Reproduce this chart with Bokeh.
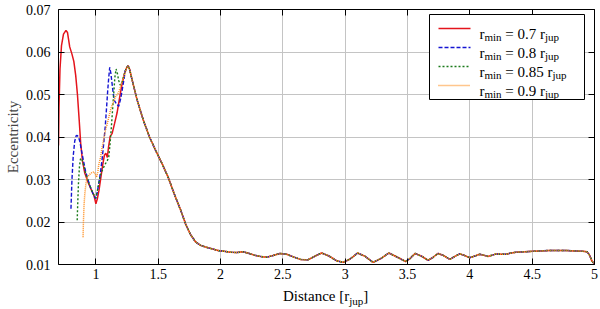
from bokeh.plotting import figure
from bokeh.layouts import column
from bokeh.models import (FixedTicker, LinearAxis, Label, Arrow, BoxAnnotation, Range1d, Div)
from bokeh.embed import file_html
from bokeh.resources import INLINE

# ---------------- data ----------------
red_x = [0.700, 0.704, 0.712, 0.724, 0.740, 0.760, 0.772, 0.790, 0.808, 0.823, 0.838,
         0.852, 0.866, 0.878, 0.892, 0.910, 0.935, 0.960, 0.985, 1.000, 1.012, 1.025,
         1.040, 1.055, 1.068, 1.080, 1.092, 1.102, 1.115, 1.130, 1.150, 1.170, 1.190,
         1.210, 1.230]
red_y = [0.0380, 0.0470, 0.0560, 0.0615, 0.0642, 0.0651, 0.0646, 0.0612, 0.0595, 0.0578,
         0.0545, 0.0500, 0.0440, 0.0385, 0.0345, 0.0316, 0.0295, 0.0278, 0.0262, 0.0243,
         0.0255, 0.0275, 0.0305, 0.0335, 0.0357, 0.0362, 0.0352, 0.0378, 0.0402, 0.0408,
         0.0432, 0.0457, 0.0492, 0.0525, 0.0550]

blue_x = [0.800, 0.808, 0.818, 0.830, 0.842, 0.850, 0.860, 0.871, 0.882, 0.895, 0.916,
          0.936, 0.956, 0.975, 0.991, 1.000, 1.012, 1.025, 1.036, 1.050, 1.063, 1.075,
          1.084, 1.095, 1.103, 1.111, 1.120, 1.130, 1.140, 1.148, 1.165, 1.183, 1.197,
          1.210, 1.225, 1.236]
blue_y = [0.0231, 0.0300, 0.0355, 0.0390, 0.0403, 0.0404, 0.0400, 0.0390, 0.0372, 0.0352,
          0.0321, 0.0300, 0.0282, 0.0268, 0.0258, 0.0255, 0.0272, 0.0295, 0.0315, 0.0348,
          0.0385, 0.0425, 0.0462, 0.0510, 0.0540, 0.0564, 0.0550, 0.0525, 0.0500, 0.0486,
          0.0478, 0.0472, 0.0488, 0.0509, 0.0535, 0.0556]

green_x = [0.850, 0.855, 0.860, 0.868, 0.876, 0.885, 0.900, 0.920, 0.945, 0.970, 0.990,
           1.000, 1.015, 1.036, 1.056, 1.076, 1.092, 1.103, 1.114, 1.124, 1.134, 1.143,
           1.152, 1.162, 1.172, 1.183, 1.195, 1.210, 1.225, 1.236]
green_y = [0.0204, 0.0250, 0.0290, 0.0330, 0.0348, 0.0350, 0.0335, 0.0312, 0.0290, 0.0272,
           0.0260, 0.0257, 0.0278, 0.0310, 0.0325, 0.0337, 0.0345, 0.0352, 0.0385, 0.0423,
           0.0465, 0.0502, 0.0540, 0.0560, 0.0550, 0.0533, 0.0522, 0.0530, 0.0545, 0.0556]

orange_x = [0.897, 0.900, 0.905, 0.911, 0.920, 0.930, 0.950, 0.970, 0.985, 0.995, 1.005,
            1.015, 1.023, 1.036, 1.050, 1.076, 1.090, 1.116, 1.130, 1.156, 1.183, 1.210,
            1.236]
orange_y = [0.0164, 0.0200, 0.0240, 0.0266, 0.0290, 0.0305, 0.0312, 0.0317, 0.0318, 0.0312,
            0.0305, 0.0318, 0.0335, 0.0350, 0.0375, 0.0415, 0.0430, 0.0462, 0.0475, 0.0494,
            0.0505, 0.0530, 0.0552]

# common part shared by all four runs
tail_x = [1.245, 1.258, 1.270, 1.290, 1.330, 1.380, 1.430, 1.480, 1.530, 1.580, 1.630,
          1.680, 1.720, 1.760, 1.800, 1.840, 1.880, 1.930, 1.980, 2.030, 2.080, 2.130,
          2.180, 2.230, 2.270, 2.320, 2.370, 2.420, 2.477, 2.530, 2.584, 2.640, 2.700,
          2.760, 2.811, 2.870, 2.930, 2.984, 3.040, 3.100, 3.160, 3.224, 3.285, 3.350,
          3.420, 3.485, 3.520, 3.560, 3.610, 3.665, 3.705, 3.745, 3.790, 3.839, 3.880,
          3.919, 3.960, 3.999, 4.040, 4.079, 4.110, 4.145, 4.180, 4.212, 4.250, 4.292,
          4.330, 4.372, 4.440, 4.505, 4.570, 4.639, 4.700, 4.770, 4.840, 4.906, 4.940,
          4.960, 4.980, 5.000]
tail_y = [0.0562, 0.0568, 0.0560, 0.0535, 0.0488, 0.0440, 0.0400, 0.0368, 0.0338, 0.0305,
          0.0265, 0.0228, 0.0195, 0.0170, 0.0153, 0.0145, 0.0141, 0.0137, 0.0133, 0.0131,
          0.0129, 0.0128, 0.0130, 0.0126, 0.0122, 0.0119, 0.0117, 0.0121, 0.0126, 0.0124,
          0.0118, 0.0112, 0.0111, 0.0120, 0.0127, 0.0120, 0.0109, 0.0105, 0.0113, 0.0127,
          0.0119, 0.0105, 0.0114, 0.0127, 0.0117, 0.0107, 0.0114, 0.0126, 0.0120, 0.0110,
          0.0117, 0.0126, 0.0121, 0.0112, 0.0119, 0.0125, 0.0121, 0.0116, 0.0120, 0.0124,
          0.0122, 0.0119, 0.0122, 0.0125, 0.0124, 0.0124, 0.0127, 0.0129, 0.0130, 0.0131,
          0.0132, 0.0133, 0.0133, 0.0133, 0.0132, 0.0131, 0.0130, 0.0122, 0.0108, 0.0101]

series_rmin = ["0.7", "0.8", "0.85", "0.9"]

x_ticks = [1, 1.5, 2, 2.5, 3, 3.5, 4, 4.5, 5]
x_tick_labels = ["1", "1.5", "2", "2.5", "3", "3.5", "4", "4.5", "5"]
y_ticks = [0.01, 0.02, 0.03, 0.04, 0.05, 0.06, 0.07]
y_tick_labels = ["0.01", "0.02", "0.03", "0.04", "0.05", "0.06", "0.07"]

# ---------------- styling / layout ----------------
FONT = "Liberation Serif"
W = 600
PH = 285          # figure height
DH = 24           # height of the x-title strip under the figure
BL, BR, BT, BB = 58, 6, 9, 21
FW, FH = W - BL - BR, PH - BT - BB

colors = ["#e4141c", "#1414d2", "#1a7a1a", "#ff8c1a"]
dashes = ["solid", "4 2", "2 2", "1 1"]
widths = [1.5, 1.4, 1.4, 1.5]

# Times advance widths (per 1000 em) for placing sub-scripted text pieces
TW = {" ": 250, "\u00a0": 250, ".": 250, "=": 564, "[": 333, "]": 333, "a": 444,
      "c": 444, "e": 444, "i": 278, "j": 278, "m": 778, "n": 500, "p": 500, "r": 333,
      "s": 389, "t": 278, "u": 500, "D": 722}
for d in "0123456789":
    TW[d] = 500


def tw(s, size):
    return sum(TW.get(ch, 500) for ch in s) * size / 1000.0


p = figure(width=W, height=PH, output_backend="svg", toolbar_location=None,
           x_range=Range1d(0.7, 5), y_range=Range1d(0.01, 0.07),
           min_border_left=BL, min_border_right=BR, min_border_top=BT,
           min_border_bottom=BB, background_fill_color="white",
           border_fill_color="white")
p.outline_line_color = None

p.add_layout(LinearAxis(), "above")
p.add_layout(LinearAxis(), "right")

xt = FixedTicker(ticks=x_ticks)
yt = FixedTicker(ticks=y_ticks)
for ax in p.axis:
    ax.axis_line_color = "black"
    ax.axis_line_width = 1
    ax.major_tick_in = 6
    ax.major_tick_out = 0
    ax.minor_tick_in = 0
    ax.minor_tick_out = 0
    ax.major_tick_line_color = "black"
    ax.major_label_text_font = FONT
    ax.major_label_text_font_size = "14px"
    ax.major_label_text_color = "black"
for ax in p.xaxis:
    ax.ticker = xt
    ax.major_label_overrides = dict(zip(x_ticks, x_tick_labels))
for ax in p.yaxis:
    ax.ticker = yt
    ax.major_label_overrides = dict(zip(y_ticks, y_tick_labels))

p.below[0].major_label_standoff = 4
p.left[0].major_label_standoff = 8
p.left[0].axis_label = "Eccentricity"
p.left[0].axis_label_text_font = FONT
p.left[0].axis_label_text_font_size = "15px"
p.left[0].axis_label_text_font_style = "normal"
p.left[0].axis_label_standoff = 2
# mirrored axes on top / right: ticks only, labels not drawn
for ax in (p.above[0], p.right[0]):
    ax.major_label_text_font_size = "1px"
    ax.major_label_text_color = None
    ax.major_label_standoff = 0

p.xgrid.ticker = xt
p.ygrid.ticker = yt
p.grid.grid_line_color = "#c4c4c4"
p.grid.grid_line_width = 1

heads = [(red_x, red_y), (blue_x, blue_y), (green_x, green_y), (orange_x, orange_y)]
for (hx, hy), c, d, w in zip(heads, colors, dashes, widths):
    p.line(hx + tail_x, hy + tail_y, line_color=c, line_dash=d, line_width=w)


def sub_text(x0, y0, parts):
    """parts: list of (text, size, is_sub) placed left to right (screen units)."""
    x = x0
    for txt, size, is_sub in parts:
        p.add_layout(Label(x=x, y=y0 - (3 if is_sub else 0), x_units="screen",
                           y_units="screen", text=txt, text_font=FONT,
                           text_font_size=f"{size}px", text_color="black",
                           text_baseline="alphabetic", text_align="left"))
        x += tw(txt, size)


# legend box (top-right corner of the frame)
LW_, LH_ = 155, 85
lx0 = FW - 10 - LW_
ly_top = FH - 5
p.add_layout(BoxAnnotation(left=lx0, right=lx0 + LW_, top=ly_top, bottom=ly_top - LH_,
                           left_units="screen", right_units="screen",
                           top_units="screen", bottom_units="screen",
                           fill_color="white", fill_alpha=1.0,
                           line_color="black", line_width=1, line_alpha=1.0))
for i, (r, c, d, w) in enumerate(zip(series_rmin, colors, dashes, widths)):
    ly = ly_top - 14 - 19 * i
    p.add_layout(Arrow(end=None, x_start=lx0 + 9, y_start=ly, x_end=lx0 + 41, y_end=ly,
                       start_units="screen", end_units="screen",
                       line_color=c, line_dash=d, line_width=w))
    sub_text(lx0 + 50, ly - 5, [("r", 15, False), ("min", 11, True),
                                (f"\u00a0=\u00a0{r}\u00a0r", 15, False), ("jup", 11, True)])

# x axis title (with subscript) in a strip below the figure, centred on the frame
title_w = tw("Distance [r", 15) + tw("jup", 11) + tw("]", 15)
pad = int(round(BL + FW / 2 - title_w / 2))
xtitle = Div(text="Distance [r<sub style='font-size:11px'>jup</sub>]",
             width=W - pad, height=DH, margin=(0, 0, 0, pad),
             styles={"font-family": FONT, "font-size": "15px", "color": "black",
                     "line-height": "15px", "white-space": "nowrap",
                     "padding-top": "4px"})

layout = column(p, xtitle, spacing=0)
open("out.html", "w").write(file_html(layout, INLINE))
